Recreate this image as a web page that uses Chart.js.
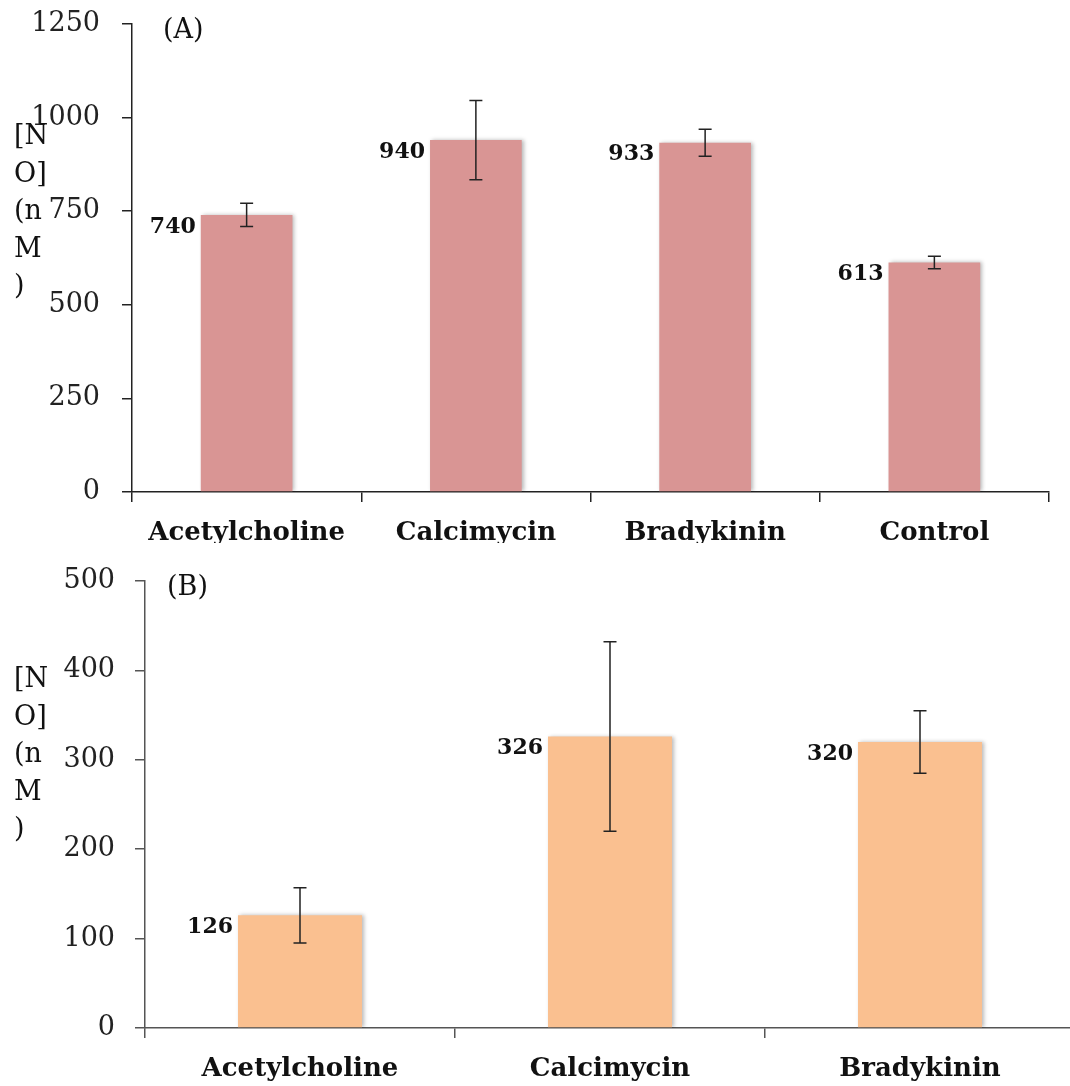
<!DOCTYPE html>
<html lang="en">
<head>
  <meta charset="UTF-8" />
  <title>[NO] release</title>
  <script src="https://cdn.jsdelivr.net/npm/chart.js"></script>
  <style>
    body { margin: 0; background: #fff; }
    .panel { position: absolute; left: 0; width: 1070px; overflow: hidden; }
    #wrapA { top: 0; height: 543px; }
    #wrapB { top: 543px; height: 543px; }
  </style>
</head>
<body>
  <div class="panel" id="wrapA"><canvas id="chartA" width="1070" height="580"></canvas></div>
  <div class="panel" id="wrapB"><canvas id="chartB" width="1080" height="543"></canvas></div>

  <script>
    // panel A
    const categoriesA = ['Acetylcholine', 'Calcimycin', 'Bradykinin', 'Control'];
    const valuesA = [740, 940, 933, 613];
    const errorsA = [31, 106, 36, 17];
    const yMaxA = 1250, yStepA = 250;

    // panel B
    const categoriesB = ['Acetylcholine', 'Calcimycin', 'Bradykinin'];
    const valuesB = [126, 326, 320];
    const errorsB = [31, 106, 35];
    const yMaxB = 500, yStepB = 100;

    const yTitleLines = ['[N', 'O]', '(n', 'M', ')'];

    const FONT = "'DejaVu Serif', serif";

    // soft shadow behind the bars
    const barShadow = {
      id: 'barShadow',
      beforeDatasetsDraw(chart) {
        const ctx = chart.ctx;
        ctx.save();
        ctx.shadowColor = 'rgba(0,0,0,0.28)';
        ctx.shadowBlur = 4;
        ctx.shadowOffsetX = 2;
        ctx.shadowOffsetY = 0;
      },
      afterDatasetsDraw(chart) {
        chart.ctx.restore();
      }
    };

    // error bars + value labels left of each bar
    const errorBars = {
      id: 'errorBars',
      afterDatasetsDraw(chart, args, opts) {
        const ctx = chart.ctx;
        const y = chart.scales.y;
        const vals = chart.data.datasets[0].data;
        const bars = chart.getDatasetMeta(0).data;
        ctx.save();
        ctx.strokeStyle = opts.color;
        ctx.lineWidth = 1.5;
        bars.forEach((bar, i) => {
          const hi = y.getPixelForValue(vals[i] + opts.errors[i]);
          const lo = y.getPixelForValue(vals[i] - opts.errors[i]);
          ctx.beginPath();
          ctx.moveTo(bar.x, hi); ctx.lineTo(bar.x, lo);
          ctx.moveTo(bar.x - opts.cap, hi); ctx.lineTo(bar.x + opts.cap, hi);
          ctx.moveTo(bar.x - opts.cap, lo); ctx.lineTo(bar.x + opts.cap, lo);
          ctx.stroke();
        });
        ctx.fillStyle = '#111';
        ctx.font = 'bold 22px ' + FONT;
        ctx.textAlign = 'right';
        ctx.textBaseline = 'middle';
        bars.forEach((bar, i) => {
          ctx.fillText(String(vals[i]), bar.x - bar.width / 2 - 5, bar.y + 12);
        });
        ctx.restore();
      }
    };

    // stacked y title and panel letter
    const sideText = {
      id: 'sideText',
      afterDraw(chart, args, opts) {
        const ctx = chart.ctx;
        ctx.save();
        ctx.fillStyle = '#111';
        ctx.font = '27px ' + FONT;
        ctx.textAlign = 'left';
        ctx.textBaseline = 'middle';
        yTitleLines.forEach((t, i) => ctx.fillText(t, 14, 137 + i * 37.5));
        ctx.fillText(opts.panel, opts.panelX, chart.chartArea.top + 7);
        ctx.restore();
      }
    };

    function makeChart(id, labels, values, errors, color, o) {
      return new Chart(document.getElementById(id), {
        type: 'bar',
        data: {
          labels: labels,
          datasets: [{
            data: values,
            backgroundColor: color,
            borderWidth: 0,
            categoryPercentage: 1,
            barPercentage: 0.4
          }]
        },
        options: {
          responsive: false,
          animation: false,
          events: [],
          layout: { padding: { top: o.padTop, right: o.padRight, left: 0, bottom: 0 } },
          plugins: {
            legend: { display: false },
            tooltip: { enabled: false },
            errorBars: { errors: errors, color: '#222', cap: 6.5 },
            sideText: { panel: o.panel, panelX: o.panelX }
          },
          scales: {
            x: {
              grid: { offset: true, drawOnChartArea: false, tickLength: 10, color: o.axis, lineWidth: 1.5 },
              border: { color: o.axis, width: 1.5 },
              ticks: {
                font: { family: FONT, size: 26, weight: 'bold' },
                color: '#111', padding: 15.5, maxRotation: 0, autoSkip: false
              },
              afterFit: s => { s.height = o.xHeight; }
            },
            y: {
              min: 0, max: o.max,
              grid: { drawOnChartArea: false, tickLength: 10, color: o.axis, lineWidth: 1.5 },
              border: { color: o.axis, width: 1.5 },
              ticks: {
                stepSize: o.step,
                font: { family: FONT, size: 27 },
                color: '#222', padding: o.tickPad,
                callback: v => String(v)
              },
              afterFit: s => { s.width = o.yWidth; s.paddingTop = 0; s.paddingBottom = 0; }
            }
          }
        },
        plugins: [barShadow, errorBars, sideText]
      });
    }

    makeChart('chartA', categoriesA, valuesA, errorsA, '#D99594', {
      max: yMaxA, step: yStepA, padTop: 24, padRight: 21, xHeight: 88,
      yWidth: 132, tickPad: 22, axis: '#222', panel: '(A)', panelX: 163
    });

    makeChart('chartB', categoriesB, valuesB, errorsB, '#FAC090', {
      max: yMaxB, step: yStepB, padTop: 38, padRight: 5, xHeight: 58,
      yWidth: 145, tickPad: 20, axis: '#555', panel: '(B)', panelX: 167
    });
  </script>
</body>
</html>
